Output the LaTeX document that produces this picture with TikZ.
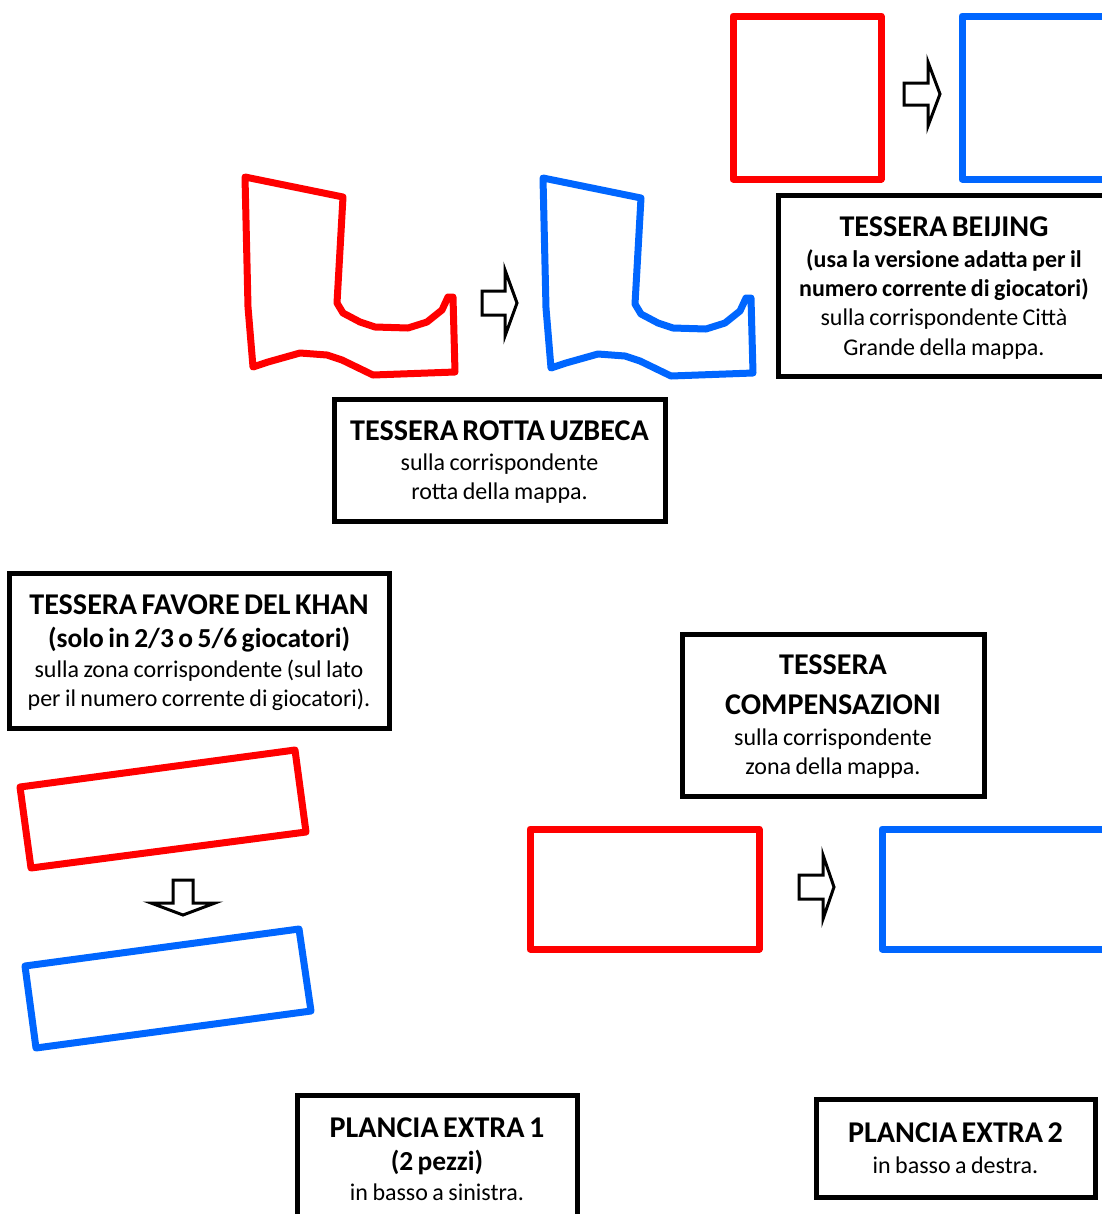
\documentclass[tikz,border=0pt]{standalone}
\usepackage{fontspec}
\setmainfont{Carlito}
\definecolor{tred}{RGB}{255,0,0}
\definecolor{tblue}{RGB}{0,102,255}
\newcommand\ttlf{\fontsize{22.6}{27}\selectfont\bfseries}
\newcommand\subf{\fontsize{18}{22}\selectfont\bfseries}
\newcommand\subF{\fontsize{20.6}{24}\selectfont\bfseries}
\newcommand\bdyf{\fontsize{18}{22}\selectfont\mdseries}
\tikzset{
  lblbox/.style={draw=black, line width=3.75pt, inner sep=0pt, fill=white},
  lbltext/.style={align=center, inner sep=0pt},
  redshape/.style={draw=tred, line width=5.25pt, line join=round},
  blueshape/.style={draw=tblue, line width=5.25pt, line join=round},
  arrowshape/.style={draw=black, fill=white, line width=2.25pt, line join=miter}
}
\begin{document}
\begin{tikzpicture}[x=0.75pt,y=-0.75pt]
\useasboundingbox (0,0) rectangle (1102,1214);
\clip (0,0) rectangle (1102,1214);

% top right squares
\draw[redshape] (733,16) rectangle (881,179);
\draw[blueshape] (962,16) rectangle (1115,179);
\draw[arrowshape, shift={(904,94)}] (0,-11) -- (24,-11) -- (24,-32) -- (36,0) -- (24,32) -- (24,11) -- (0,11) -- cycle;

% L-shapes
\draw[redshape] (245,177) -- (343,197) -- (337,303) -- (343,313) -- (360,322) -- (375,327) -- (408,328) -- (427,322) -- (442,310) -- (448,297) -- (453,297) -- (455,372) -- (373,375) -- (342,360) -- (327,355) -- (300,353) -- (268,362) -- (253,367) -- (248,307) -- cycle;
\draw[blueshape, shift={(298,1)}] (245,177) -- (343,197) -- (337,303) -- (343,313) -- (360,322) -- (375,327) -- (408,328) -- (427,322) -- (442,310) -- (448,297) -- (453,297) -- (455,372) -- (373,375) -- (342,360) -- (327,355) -- (300,353) -- (268,362) -- (253,367) -- (248,307) -- cycle;
\draw[arrowshape, shift={(482,303)}] (0,-12) -- (23,-12) -- (23,-33) -- (35,0) -- (23,33) -- (23,12) -- (0,12) -- cycle;

% Beijing box
\node[lblbox, minimum width=249pt, minimum height=135.75pt] (beijingbox) at (944,285.5) {};
\node[lbltext, text width=240pt, yshift=-1.9pt] (beijing) at (beijingbox.center)
  {\vspace*{3pt}\ttlf TESSERA BEIJING\par\vspace{-2pt}\subf (usa la versione adatta per il\par numero corrente di giocatori)\par\bdyf sulla corrispondente Città\par Grande della mappa.\par};

% Rotta box
\node[lblbox, minimum width=248.25pt, minimum height=91.5pt] (rottabox) at (499.5,460) {};
\node[lbltext, text width=232.5pt, yshift=-1.9pt] (rotta) at (rottabox.center)
  {\vspace*{2pt}\ttlf TESSERA ROTTA UZBECA\par\vspace{-1.75pt}\bdyf sulla corrispondente\par rotta della mappa.\par};

% Khan box
\node[lblbox, minimum width=285pt, minimum height=116.25pt] (khanbox) at (199,650.5) {};
\node[lbltext, text width=273.75pt, yshift=-1.5pt] (khan) at (khanbox.center)
  {\vspace*{3.75pt}\ttlf TESSERA FAVORE DEL KHAN\par\vspace{-2.5pt}\subF (solo in 2/3 o 5/6 giocatori)\par\bdyf sulla zona corrispondente (sul lato\par per il numero corrente di giocatori).\par};

% tilted rectangles
\draw[redshape] (20,787) -- (295,750) -- (306,832) -- (31,868) -- cycle;
\draw[blueshape] (25,966) -- (299,929) -- (311,1011) -- (36,1048) -- cycle;
\draw[arrowshape, shift={(183,880)}] (-10,0) -- (-10,23) -- (-32,23) -- (0,35) -- (32,23) -- (10,23) -- (10,0) -- cycle;

% Compensazioni
\node[lblbox, minimum width=226.5pt, minimum height=121.5pt] (compbox) at (833,715) {};
\node[lbltext, text width=210pt, yshift=-1.5pt] (comp) at (compbox.center)
  {\vspace*{3pt}\ttlf TESSERA\par COMPENSAZIONI\par\vspace{1pt}\bdyf sulla corrispondente\par zona della mappa.\par};
\draw[redshape] (530,829) rectangle (759,949);
\draw[blueshape] (882,829) rectangle (1115,949);
\draw[arrowshape, shift={(799,887)}] (0,-12) -- (24,-12) -- (24,-32) -- (35,0) -- (24,32) -- (24,12) -- (0,12) -- cycle;

% Plancia boxes
\node[lblbox, minimum width=210pt, minimum height=96pt] (plancia1box) at (437,1159) {};
\node[lbltext, text width=195pt] (plancia1) at (plancia1box.center)
  {\ttlf PLANCIA EXTRA 1\par\vspace{1pt}\subF (2 pezzi)\par\bdyf in basso a sinistra.\par};
\node[lblbox, minimum width=209.25pt, minimum height=73.5pt] (plancia2box) at (955.5,1148) {};
\node[lbltext, text width=195pt] (plancia2) at (plancia2box.center)
  {\ttlf PLANCIA EXTRA 2\par\vspace{1pt}\bdyf in basso a destra.\par};
\end{tikzpicture}
\end{document}
